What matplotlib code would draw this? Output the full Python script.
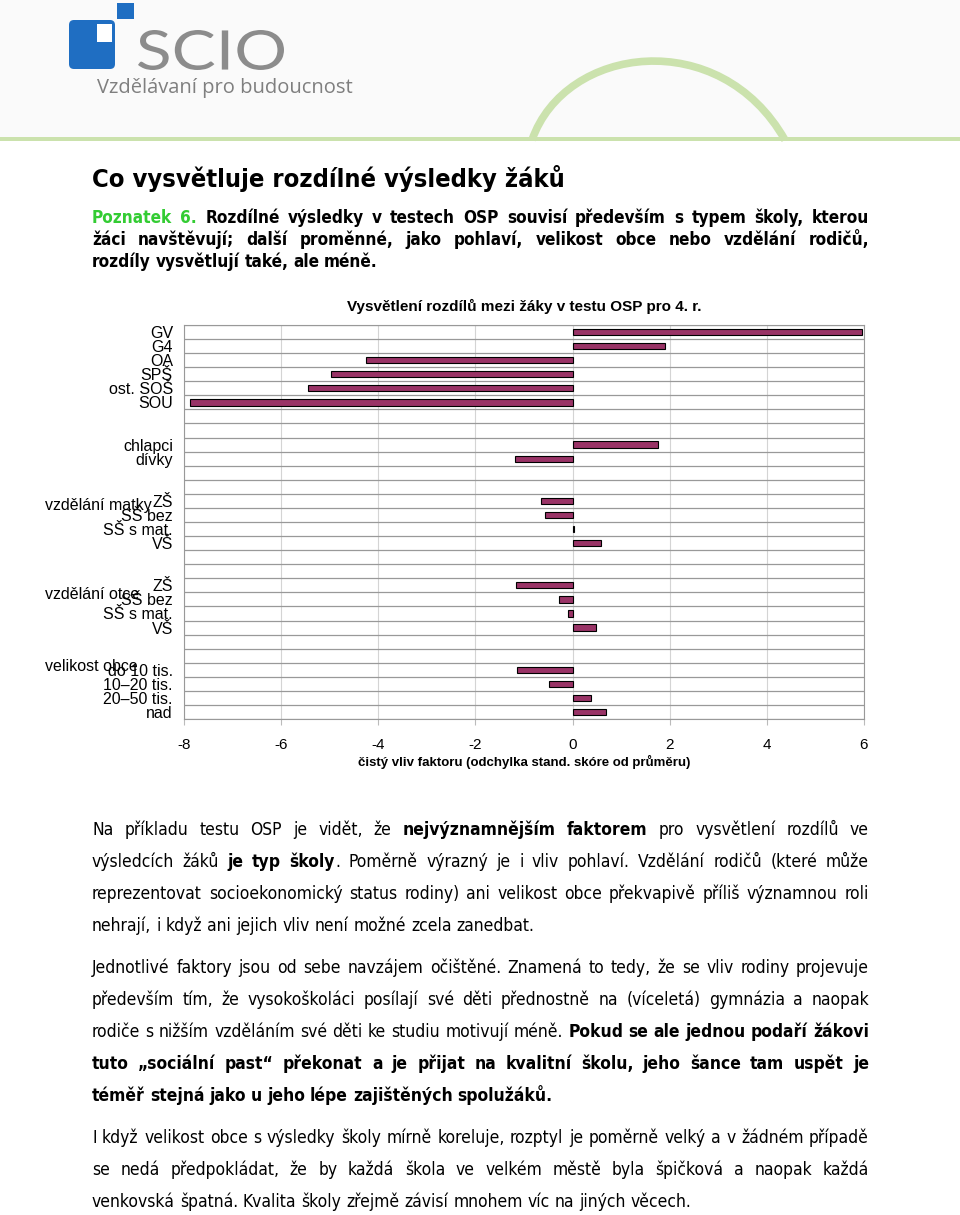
import numpy as np
import matplotlib
matplotlib.use('Agg')
import matplotlib.pyplot as plt
from matplotlib import font_manager as fm
from matplotlib.patches import Rectangle, FancyBboxPatch, PathPatch
from matplotlib.path import Path
from matplotlib.textpath import TextPath
from matplotlib.transforms import Affine2D

# chart data
categories = ['GV', 'G4', 'OA', 'SPŠ', 'ost. SOŠ', 'SOU', '', '',
              'chlapci', 'dívky', '', '',
              'ZŠ', 'SŠ bez', 'SŠ s mat.', 'VŠ', '', '',
              'ZŠ', 'SŠ bez', 'SŠ s mat.', 'VŠ', '', '',
              'do 10 tis.', '10–20 tis.', '20–50 tis.', 'nad']
values = [5.96, 1.90, -4.25, -4.98, -5.45, -7.87, np.nan, np.nan,
          1.76, -1.19, np.nan, np.nan,
          -0.65, -0.57, 0.03, 0.58, np.nan, np.nan,
          -1.17, -0.27, -0.09, 0.48, np.nan, np.nan,
          -1.14, -0.48, 0.37, 0.68]
group_labels = ['vzdělání matky', 'vzdělání otce', 'velikost obce']
group_rows = [12.36, 18.62, 23.74]
xticks = [-8, -6, -4, -2, 0, 2, 4, 6]

names = {f.name for f in fm.fontManager.ttflist}
narrow = 'Liberation Sans Narrow' if 'Liberation Sans Narrow' in names else 'Liberation Sans'
has_cond = any(f.name == 'DejaVu Sans' and f.stretch == 'condensed' for f in fm.fontManager.ttflist)
body_stretch = 'condensed' if has_cond else 'normal'

W, H = 960, 1215
fig = plt.figure(figsize=(9.6, 12.15), dpi=100)
fig.patch.set_facecolor('white')

bg = fig.add_axes([0, 0, 1, 1])
bg.set_xlim(0, W)
bg.set_ylim(H, 0)
bg.axis('off')

# header
bg.add_patch(Rectangle((0, 0), W, 139, color='#fafafa', lw=0))
bg.add_patch(Rectangle((0, 137), W, 4, color='#cbe2ad', lw=0))
arc = Path([(532, 140), (565, 45), (720, 25), (785, 140)],
           [Path.MOVETO, Path.CURVE4, Path.CURVE4, Path.CURVE4])
bg.add_patch(PathPatch(arc, fill=False, edgecolor='#cbe2ad', lw=5.5))

blue = '#1f6ec2'
bg.add_patch(FancyBboxPatch((69, 20), 46, 49, boxstyle='round,pad=0,rounding_size=5',
                            color=blue, lw=0))
bg.add_patch(Rectangle((97, 24), 15, 18, color='white', lw=0))
bg.add_patch(Rectangle((117, 3), 17, 16, color=blue, lw=0))

tp = TextPath((0, 0), 'SCIO', size=100, prop=fm.FontProperties(family='Lato', weight='normal'))
ext = tp.get_extents()
sx = (284 - 138) / ext.width
sy = (70 - 30) / ext.height
tr = Affine2D().translate(-ext.x0, -ext.y0).scale(sx, -sy).translate(138, 70)
bg.add_patch(PathPatch(tr.transform_path(tp), color='#8c8c8c', lw=0))
bg.text(97, 88, 'Vzdělávaní pro budoucnost', fontsize=14.5, family='Open Sans',
        color='#7f7f7f', va='center', ha='left')

renderer = fig.canvas.get_renderer()


def draw_line(y, pieces, size, justify=True, x0=92, x1=869):
    words = []
    new_word = True
    for text, weight, color in pieces:
        parts = text.split(' ')
        for i, p in enumerate(parts):
            if i > 0:
                new_word = True
            if p == '':
                continue
            if new_word or not words:
                words.append([])
                new_word = False
            words[-1].append((p, weight, color))
    items = []
    widths = []
    for w in words:
        wl = []
        tot = 0
        for p, weight, color in w:
            t = bg.text(0, y, p, fontsize=size, weight=weight, color=color,
                        family='DejaVu Sans', stretch=body_stretch, va='baseline', ha='left')
            bw = t.get_window_extent(renderer).width
            wl.append((t, tot))
            tot += bw
        items.append(wl)
        widths.append(tot)
    a = bg.text(0, 0, 'n n', fontsize=size, family='DejaVu Sans', stretch=body_stretch)
    b = bg.text(0, 0, 'nn', fontsize=size, family='DejaVu Sans', stretch=body_stretch)
    space = a.get_window_extent(renderer).width - b.get_window_extent(renderer).width
    a.remove()
    b.remove()
    if justify and len(words) > 1:
        gap = (x1 - x0 - sum(widths)) / (len(words) - 1)
    else:
        gap = space
    x = x0
    for wl, wd in zip(items, widths):
        for t, off in wl:
            t.set_x(x + off)
        x += wd + gap


# title and finding
bg.text(92, 187, 'Co vysvětluje rozdílné výsledky žáků', fontsize=18.3, weight='bold',
        family='DejaVu Sans', stretch=body_stretch, va='baseline')
green = '#33cc33'
draw_line(223, [('Poznatek 6.', 'bold', green),
                (' Rozdílné výsledky v testech OSP souvisí především s typem školy, kterou', 'bold', 'black')], 12.3)
draw_line(245, [('žáci navštěvují; další proměnné, jako pohlaví, velikost obce nebo vzdělání rodičů,', 'bold', 'black')], 12.3)
draw_line(267, [('rozdíly vysvětlují také, ale méně.', 'bold', 'black')], 12.3, justify=False)

# body text
N, B, K = 'normal', 'bold', 'black'
para = [
    (835, [('Na příkladu testu OSP je vidět, že ', N, K), ('nejvýznamnějším faktorem', B, K),
           (' pro vysvětlení rozdílů ve', N, K)], True),
    (867, [('výsledcích žáků ', N, K), ('je typ školy', B, K),
           ('. Poměrně výrazný je i vliv pohlaví. Vzdělání rodičů (které může', N, K)], True),
    (899, [('reprezentovat socioekonomický status rodiny) ani velikost obce překvapivě příliš významnou roli', N, K)], True),
    (931, [('nehrají, i když ani jejich vliv není možné zcela zanedbat.', N, K)], False),
    (973, [('Jednotlivé faktory jsou od sebe navzájem očištěné. Znamená to tedy, že se vliv rodiny projevuje', N, K)], True),
    (1005, [('především tím, že vysokoškoláci posílají své děti přednostně na (víceletá) gymnázia a naopak', N, K)], True),
    (1037, [('rodiče s nižším vzděláním své děti ke studiu motivují méně. ', N, K),
            ('Pokud se ale jednou podaří žákovi', B, K)], True),
    (1069, [('tuto „sociální past“ překonat a je přijat na kvalitní školu, jeho šance tam uspět je', B, K)], True),
    (1101, [('téměř stejná jako u jeho lépe zajištěných spolužáků.', B, K)], False),
    (1143, [('I když velikost obce s výsledky školy mírně koreluje, rozptyl je poměrně velký a v žádném případě', N, K)], True),
    (1175, [('se nedá předpokládat, že by každá škola ve velkém městě byla špičková a naopak každá', N, K)], True),
    (1207, [('venkovská špatná. Kvalita školy zřejmě závisí mnohem víc na jiných věcech.', N, K)], False),
]
for y, pieces, just in para:
    draw_line(y, pieces, 12.5, justify=just)

# chart
ax = fig.add_axes([184 / W, 1 - 719 / H, (864 - 184) / W, (719 - 325) / H])
rows = np.arange(len(categories))
ax.barh(rows, values, height=0.45, color='#993366', edgecolor='black', linewidth=0.8, zorder=3)
ax.set_xlim(-8, 6)
ax.set_ylim(len(categories) - 0.5, -0.5)
ax.set_xticks(xticks)
ax.set_xticklabels([str(v) for v in xticks], fontsize=11, family=narrow)
ax.set_yticks(rows)
ax.set_yticklabels(categories, fontsize=11.5, family=narrow)
ax.tick_params(axis='y', length=0, pad=8)
ax.tick_params(axis='x', length=4, pad=10, color='#bbbbbb')
for b in np.arange(-0.5, len(categories), 1.0):
    ax.axhline(b, color='#999999', lw=0.9, zorder=1)
for v in xticks:
    ax.axvline(v, color='#d4d4d4', lw=0.8, zorder=0)
for s in ax.spines.values():
    s.set_color('#999999')
ax.set_xlabel('čistý vliv faktoru (odchylka stand. skóre od průměru)', fontsize=9.5,
              weight='bold', family=narrow, labelpad=2)
ax.set_title('Vysvětlení rozdílů mezi žáky v testu OSP pro 4. r.', fontsize=11,
             weight='bold', family=narrow, pad=10)

for lab, r in zip(group_labels, group_rows):
    bg.text(45, 325 + (r + 0.5) * (719 - 325) / len(categories), lab, fontsize=11.5,
            family=narrow, va='center', ha='left')

fig.savefig('out.png', dpi=100)
